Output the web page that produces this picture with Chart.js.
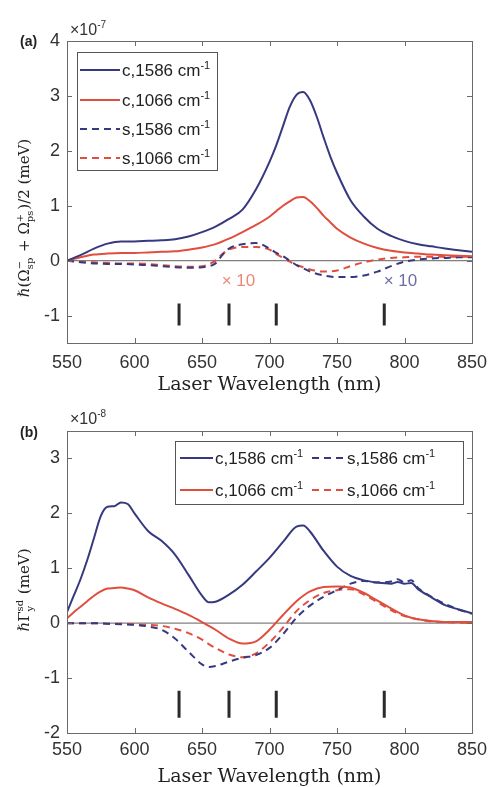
<!doctype html>
<html>
<head>
<meta charset="utf-8">
<title>Laser wavelength dependence</title>
<script src="https://cdn.jsdelivr.net/npm/chart.js@4.4.0/dist/chart.umd.min.js"></script>
<style>
  html, body { margin: 0; padding: 0; background: #fff; }
  canvas { display: block; }
</style>
</head>
<body>
<canvas id="chartA" width="489" height="395"></canvas>
<canvas id="chartB" width="489" height="392"></canvas>
<script>
  // panel (a), units of 1e-7 meV (the s curves are shown x10)
  const wlA = [550,560,570,580,590,600,610,620,630,640,650,660,670,680,690,700,705,710,715,720,725,730,735,740,745,750,760,770,780,790,800,810,820,830,840,850];
  const cA1586 = [0,0.1,0.22,0.31,0.35,0.35,0.36,0.37,0.39,0.44,0.52,0.62,0.76,0.93,1.3,1.8,2.1,2.45,2.8,3.02,3.07,2.92,2.62,2.25,1.9,1.6,1.1,0.8,0.58,0.45,0.36,0.3,0.26,0.22,0.19,0.16];
  const cA1066 = [0,0.06,0.11,0.13,0.14,0.14,0.15,0.16,0.17,0.2,0.24,0.3,0.4,0.52,0.65,0.8,0.9,1.0,1.08,1.15,1.16,1.08,0.96,0.82,0.7,0.58,0.42,0.31,0.23,0.18,0.15,0.13,0.11,0.1,0.09,0.08];
  const wlAs = [550,560,570,580,590,600,610,620,630,640,650,660,665,670,680,690,700,705,710,715,720,725,730,740,750,760,770,780,790,800,810,820,830,840,850];
  const sA1586 = [0,-0.03,-0.05,-0.06,-0.06,-0.07,-0.08,-0.1,-0.12,-0.13,-0.12,-0.05,0.1,0.22,0.3,0.32,0.22,0.14,0.08,0.0,-0.08,-0.14,-0.2,-0.27,-0.3,-0.3,-0.27,-0.2,-0.1,-0.02,0.02,0.04,0.05,0.06,0.06];
  const sA1066 = [0,-0.02,-0.03,-0.04,-0.05,-0.05,-0.06,-0.08,-0.1,-0.11,-0.1,0.0,0.12,0.2,0.25,0.25,0.2,0.12,0.05,-0.02,-0.08,-0.12,-0.16,-0.2,-0.18,-0.1,-0.03,0.02,0.05,0.06,0.07,0.07,0.07,0.07,0.07];

  // panel (b), units of 1e-8 meV
  const wlB = [550,555,560,565,570,575,580,585,590,595,600,610,620,630,640,650,655,660,670,680,690,700,710,720,725,730,740,750,760,770,780,790,795,800,805,810,820,830,840,850];
  const cB1586 = [0.2,0.5,0.8,1.15,1.55,1.95,2.12,2.13,2.2,2.17,2.0,1.68,1.5,1.25,0.88,0.5,0.38,0.39,0.52,0.7,0.94,1.19,1.48,1.76,1.78,1.67,1.32,1.03,0.86,0.78,0.74,0.72,0.75,0.72,0.73,0.62,0.47,0.33,0.25,0.18];
  const cB1066 = [0.09,0.2,0.3,0.4,0.5,0.58,0.63,0.64,0.65,0.63,0.6,0.47,0.36,0.26,0.15,0.02,-0.05,-0.12,-0.28,-0.37,-0.33,-0.12,0.15,0.4,0.5,0.58,0.66,0.67,0.65,0.55,0.41,0.27,0.2,0.14,0.1,0.07,0.04,0.02,0.02,0.02];
  const wlBs = [550,560,570,580,590,600,610,620,630,640,650,655,660,670,680,690,700,710,720,730,740,750,760,770,780,790,795,800,805,810,820,830,840,850];
  const sB1586 = [0,0,0,-0.01,-0.02,-0.03,-0.06,-0.12,-0.28,-0.52,-0.75,-0.8,-0.78,-0.7,-0.63,-0.58,-0.45,-0.2,0.1,0.32,0.48,0.6,0.72,0.77,0.74,0.76,0.8,0.74,0.78,0.64,0.48,0.35,0.25,0.17];
  const sB1066 = [0,0,0,-0.01,-0.01,-0.02,-0.03,-0.05,-0.1,-0.18,-0.3,-0.38,-0.45,-0.57,-0.62,-0.55,-0.35,-0.08,0.22,0.42,0.55,0.6,0.62,0.52,0.38,0.24,0.18,0.13,0.1,0.07,0.03,0.02,0.01,0.01];

  // laser lines (nm) and the y span of their markers in each panel
  const laserNm = [633, 670, 705, 785];
  const laserSpanA = [-0.78, -1.18];
  const laserSpanB = [-1.23, -1.72];

  const xTicks = [550, 600, 650, 700, 750, 800, 850];
  const yTicksA = [-1, 0, 1, 2, 3, 4];
  const yTicksB = [-2, -1, 0, 1, 2, 3];

  const navy = '#36397f';
  const red = '#e04e3e';
  const sans = '"Liberation Sans", Arial, sans-serif';
  const serif = '"DejaVu Serif", serif';

  function line(xs, ys, color, dashed) {
    return {
      data: xs.map((x, i) => ({ x: x, y: ys[i] })),
      borderColor: color,
      borderWidth: 2,
      borderDash: dashed ? [7, 5] : [],
      pointRadius: 0,
      cubicInterpolationMode: 'monotone'
    };
  }

  function laserSets(span) {
    return laserNm.map(nm => ({
      data: [{ x: nm, y: span[0] }, { x: nm, y: span[1] }],
      borderColor: '#2a2a2a', borderWidth: 3, pointRadius: 0
    }));
  }

  function zeroLine() {
    return { data: [{ x: 550, y: 0 }, { x: 850, y: 0 }], borderColor: '#808080', borderWidth: 1.2, pointRadius: 0 };
  }

  // text with stacked super/subscripts: parts are strings or {sup, sub}
  function richWidth(ctx, parts, size, fam) {
    let w = 0;
    parts.forEach(p => {
      if (typeof p === 'string') { ctx.font = size + 'px ' + fam; w += ctx.measureText(p).width; }
      else {
        ctx.font = Math.round(size * 0.65) + 'px ' + fam;
        w += Math.max(ctx.measureText(p.sup || '').width, ctx.measureText(p.sub || '').width) + 1;
      }
    });
    return w;
  }
  function richDraw(ctx, parts, x, y, size, fam) {
    ctx.textAlign = 'left';
    ctx.textBaseline = 'alphabetic';
    parts.forEach(p => {
      if (typeof p === 'string') {
        ctx.font = size + 'px ' + fam;
        ctx.fillText(p, x, y);
        x += ctx.measureText(p).width;
      } else {
        ctx.font = Math.round(size * 0.65) + 'px ' + fam;
        if (p.sup) ctx.fillText(p.sup, x, y - size * 0.42);
        if (p.sub) ctx.fillText(p.sub, x, y + size * 0.25);
        x += Math.max(ctx.measureText(p.sup || '').width, ctx.measureText(p.sub || '').width) + 1;
      }
    });
  }

  const decor = {
    id: 'decor',
    afterDraw(chart, args, o) {
      const { ctx, chartArea: a, scales: { x, y } } = chart;
      ctx.save();
      // axes box with inward ticks
      ctx.strokeStyle = '#6a6a6a';
      ctx.lineWidth = 1;
      ctx.strokeRect(a.left + 0.5, a.top + 0.5, a.width, a.height);
      ctx.beginPath();
      x.ticks.forEach(t => {
        const px = Math.round(x.getPixelForValue(t.value)) + 0.5;
        ctx.moveTo(px, a.bottom); ctx.lineTo(px, a.bottom - 5);
        ctx.moveTo(px, a.top); ctx.lineTo(px, a.top + 5);
      });
      y.ticks.forEach(t => {
        const py = Math.round(y.getPixelForValue(t.value)) + 0.5;
        ctx.moveTo(a.left, py); ctx.lineTo(a.left + 5, py);
        ctx.moveTo(a.right, py); ctx.lineTo(a.right - 5, py);
      });
      ctx.stroke();

      ctx.fillStyle = '#222';
      // panel label and exponent
      ctx.font = 'bold 14px ' + sans;
      ctx.textBaseline = 'middle';
      ctx.fillText(o.panel, o.panelPos[0], o.panelPos[1]);
      ctx.fillStyle = '#333';
      richDraw(ctx, ['\u00d710', { sup: o.exp }], o.expPos[0], o.expPos[1], 16, sans);

      // rotated y title
      ctx.fillStyle = '#222';
      const tw = richWidth(ctx, o.yTitle, 15, serif);
      ctx.save();
      ctx.translate(o.yTitlePos[0], o.yTitlePos[1]);
      ctx.rotate(-Math.PI / 2);
      richDraw(ctx, o.yTitle, -tw / 2, 5, 15, serif);
      ctx.restore();

      // x10 notes
      (o.notes || []).forEach(n => {
        ctx.fillStyle = n.color;
        ctx.font = '17px ' + sans;
        ctx.textAlign = 'center';
        ctx.textBaseline = 'middle';
        ctx.fillText(n.text, x.getPixelForValue(n.x), y.getPixelForValue(n.y));
      });

      // legend
      const L = o.legend;
      ctx.fillStyle = '#fff';
      ctx.fillRect(L.box[0], L.box[1], L.box[2], L.box[3]);
      ctx.strokeStyle = '#555';
      ctx.strokeRect(L.box[0] + 0.5, L.box[1] + 0.5, L.box[2], L.box[3]);
      L.items.forEach(it => {
        ctx.strokeStyle = it.color;
        ctx.lineWidth = 2;
        ctx.setLineDash(it.dashed ? [7, 5] : []);
        ctx.beginPath();
        ctx.moveTo(it.x, it.y); ctx.lineTo(it.x + L.sample, it.y);
        ctx.stroke();
        ctx.setLineDash([]);
        ctx.fillStyle = '#222';
        richDraw(ctx, [it.label, { sup: '-1' }], it.x + L.sample + 2, it.y + 6, 17, sans);
      });
      ctx.restore();
    }
  };

  function makeChart(id, sets, yMin, yMax, yTicks, pad, xHeight, tickPad, deco) {
    return new Chart(document.getElementById(id), {
      type: 'line',
      data: { datasets: sets },
      plugins: [decor],
      options: {
        responsive: false,
        devicePixelRatio: 1,
        animation: false,
        layout: { padding: { top: pad, right: 17, left: 0, bottom: 0 } },
        plugins: { legend: { display: false }, tooltip: { enabled: false }, decor: deco },
        scales: {
          x: {
            type: 'linear', min: 550, max: 850,
            afterBuildTicks: s => { s.ticks = xTicks.map(v => ({ value: v })); },
            afterFit: s => { s.height = xHeight; s.paddingLeft = 0; s.paddingRight = 0; },
            grid: { display: false, drawTicks: false },
            border: { display: false },
            ticks: { font: { family: sans, size: 18 }, color: '#333', padding: tickPad, maxRotation: 0 },
            title: { display: true, text: 'Laser Wavelength (nm)', color: '#222', padding: 0,
                     font: { family: serif, size: 19, lineHeight: 1 } }
          },
          y: {
            min: yMin, max: yMax,
            afterBuildTicks: s => { s.ticks = yTicks.map(v => ({ value: v })); },
            afterFit: s => { s.width = 67; s.paddingTop = 0; s.paddingBottom = 0; },
            grid: { display: false, drawTicks: false },
            border: { display: false },
            ticks: { font: { family: sans, size: 18 }, color: '#333', padding: 7 }
          }
        }
      }
    });
  }

  const setsA = [
    line(wlA, cA1586, navy, false),
    line(wlA, cA1066, red, false),
    line(wlAs, sA1586, navy, true),
    line(wlAs, sA1066, red, true)
  ].concat(laserSets(laserSpanA), [zeroLine()]);

  makeChart('chartA', setsA, -1.5, 4, yTicksA, 41, 52, 9, {
    panel: '(a)', panelPos: [20, 42],
    exp: '-7', expPos: [70, 35],
    yTitle: ['\u210f(\u03a9', { sup: '\u2212', sub: 'sp' }, ' + \u03a9', { sup: '+', sub: 'ps' }, ')/2 (meV)'],
    yTitlePos: [24, 218],
    notes: [
      { text: '\u00d7 10', x: 677, y: -0.38, color: '#e98a78' },
      { text: '\u00d7 10', x: 797, y: -0.38, color: '#6d6fa3' }
    ],
    legend: {
      box: [77, 52, 140, 118], sample: 40,
      items: [
        { label: 'c,1586 cm', color: navy, dashed: false, x: 80, y: 70 },
        { label: 'c,1066 cm', color: red, dashed: false, x: 80, y: 100 },
        { label: 's,1586 cm', color: navy, dashed: true, x: 80, y: 129 },
        { label: 's,1066 cm', color: red, dashed: true, x: 80, y: 158 }
      ]
    }
  });

  const setsB = [
    line(wlB, cB1586, navy, false),
    line(wlB, cB1066, red, false),
    line(wlBs, sB1586, navy, true),
    line(wlBs, sB1066, red, true)
  ].concat(laserSets(laserSpanB), [zeroLine()]);

  makeChart('chartB', setsB, -2, 3.5, yTicksB, 36, 54, 6, {
    panel: '(b)', panelPos: [20, 38],
    exp: '-8', expPos: [70, 29],
    yTitle: ['\u210f\u0393', { sup: 'sd', sub: 'y' }, ' (meV)'],
    yTitlePos: [24, 195],
    legend: {
      box: [175, 46, 288, 63], sample: 33,
      items: [
        { label: 'c,1586 cm', color: navy, dashed: false, x: 180, y: 63 },
        { label: 'c,1066 cm', color: red, dashed: false, x: 180, y: 95 },
        { label: 's,1586 cm', color: navy, dashed: true, x: 312, y: 63 },
        { label: 's,1066 cm', color: red, dashed: true, x: 312, y: 95 }
      ]
    }
  });
</script>
</body>
</html>
